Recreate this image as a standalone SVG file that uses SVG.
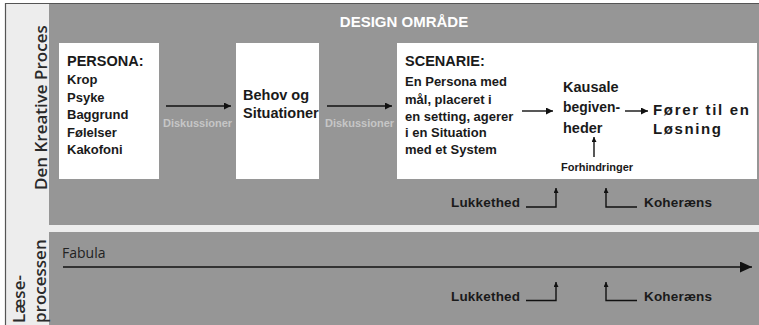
<svg xmlns="http://www.w3.org/2000/svg" width="759" height="325" viewBox="0 0 759 325">
<defs>
<style>
.t{font-family:"Liberation Sans",Arial,sans-serif;font-weight:bold;fill:#1a1a1a}
.lbl{font-family:"Open Sans","Liberation Sans",sans-serif;font-weight:600;fill:#2a2a2a;font-size:17px}
.disk{font-family:"Liberation Sans",Arial,sans-serif;font-weight:bold;fill:#c6c6c6;font-size:11px}
.box{fill:#ffffff}
.ln{stroke:#111;stroke-width:1.4;fill:none}
</style>
<marker id="ah" viewBox="0 0 10 10" refX="10" refY="5" markerWidth="7" markerHeight="7" markerUnits="userSpaceOnUse" orient="auto"><path d="M0,0 L10,5 L0,10 z" fill="#111"/></marker>
<marker id="ahs" viewBox="0 0 10 10" refX="10" refY="5" markerWidth="5" markerHeight="5" markerUnits="userSpaceOnUse" orient="auto"><path d="M0,0 L10,5 L0,10 z" fill="#111"/></marker>
<marker id="ahb" viewBox="0 0 10 10" refX="10" refY="5" markerWidth="12" markerHeight="11" markerUnits="userSpaceOnUse" orient="auto" preserveAspectRatio="none"><path d="M0,0 L10,5 L0,10 z" fill="#111"/></marker>
</defs>
<g id="background">
<rect x="0" y="0" width="759" height="325" fill="#ffffff"/>
<rect x="5" y="3" width="754" height="322" fill="#ededed"/>
<rect x="49" y="4" width="710" height="221" fill="#969696"/>
<rect x="49" y="232" width="710" height="93" fill="#969696"/>
<path d="M5,3.5 H759 M5.5,3 V325" stroke="#555" stroke-width="1.2" fill="none"/>
</g>
<g id="lane-labels">
<text class="lbl" transform="translate(47,190) rotate(-90)">Den Kreative Proces</text>
<text class="lbl" transform="translate(25,323) rotate(-90)">Læse-</text>
<text class="lbl" transform="translate(46,323) rotate(-90)">processen</text>
</g>
<g id="title">
<text class="t" x="404" y="27" font-size="15" text-anchor="middle" style="fill:#ffffff">DESIGN OMRÅDE</text>
</g>
<g id="persona">
<rect class="box" x="59" y="43" width="100" height="136"/>
<text class="t" x="67" y="66" font-size="14.5">PERSONA:</text>
<text class="t" x="67" y="84" font-size="13">Krop</text>
<text class="t" x="67" y="101.5" font-size="13">Psyke</text>
<text class="t" x="67" y="119" font-size="13">Baggrund</text>
<text class="t" x="67" y="136.5" font-size="13">Følelser</text>
<text class="t" x="67" y="154" font-size="13">Kakofoni</text>
</g>
<g id="behov">
<rect class="box" x="236" y="43" width="83" height="136"/>
<text class="t" x="243" y="100" font-size="14.5">Behov og</text>
<text class="t" x="243" y="118" font-size="14.5">Situationer</text>
</g>
<g id="scenarie">
<rect class="box" x="397" y="43" width="360" height="136"/>
<text class="t" x="405" y="66" font-size="14.5">SCENARIE:</text>
<text class="t" x="405" y="86" font-size="13">En Persona med</text>
<text class="t" x="405" y="103.5" font-size="13">mål, placeret i</text>
<text class="t" x="405" y="120.5" font-size="13">en setting, agerer</text>
<text class="t" x="405" y="137" font-size="13">i en Situation</text>
<text class="t" x="405" y="154" font-size="13">med et System</text>
</g>
<g id="kausale">
<text class="t" x="563" y="92" font-size="14.5">Kausale</text>
<text class="t" x="563" y="112" font-size="14.5" textLength="57" lengthAdjust="spacingAndGlyphs">begiven-</text>
<text class="t" x="563" y="133" font-size="14.5">heder</text>
</g>
<g id="loesning">
<text class="t" x="653" y="115" font-size="15" textLength="96" lengthAdjust="spacing">Fører til en</text>
<text class="t" x="653" y="134" font-size="15" textLength="68" lengthAdjust="spacing">Løsning</text>
</g>
<g id="forhindringer">
<text class="t" x="597" y="171" font-size="11" text-anchor="middle">Forhindringer</text>
</g>
<g id="diskussioner">
<text class="disk" x="163" y="127">Diskussioner</text>
<text class="disk" x="325" y="127">Diskussioner</text>
</g>
<g id="fabula">
<text x="62" y="258" font-family="'Open Sans','Liberation Sans',sans-serif" font-size="14" fill="#222">Fabula</text>
</g>
<g id="lukkethed-koherens">
<text class="t" x="451" y="207" font-size="13.5" textLength="69" lengthAdjust="spacing">Lukkethed</text>
<text class="t" x="644" y="207" font-size="13.5" textLength="68" lengthAdjust="spacing">Koheræns</text>
<text class="t" x="451" y="300.5" font-size="13.5" textLength="69" lengthAdjust="spacing">Lukkethed</text>
<text class="t" x="644" y="300.5" font-size="13.5" textLength="68" lengthAdjust="spacing">Koheræns</text>
</g>
<g id="connectors">
<line class="ln" x1="166" y1="106" x2="231" y2="106" marker-end="url(#ah)"/>
<line class="ln" x1="327" y1="106" x2="392" y2="106" marker-end="url(#ah)"/>
<line class="ln" x1="522" y1="111" x2="553" y2="111" marker-end="url(#ah)"/>
<line class="ln" x1="625" y1="111" x2="648" y2="111" marker-end="url(#ah)"/>
<line class="ln" x1="594" y1="157" x2="594" y2="137" marker-end="url(#ahs)"/>
<line class="ln" x1="63" y1="267" x2="752" y2="267" marker-end="url(#ahb)"/>
<path class="ln" d="M526,207 H556 V188" marker-end="url(#ahs)"/>
<path class="ln" d="M637,207 H606 V188" marker-end="url(#ahs)"/>
<path class="ln" d="M526,300.5 H556 V282" marker-end="url(#ahs)"/>
<path class="ln" d="M637,300.5 H606 V282" marker-end="url(#ahs)"/>
</g>
</svg>
